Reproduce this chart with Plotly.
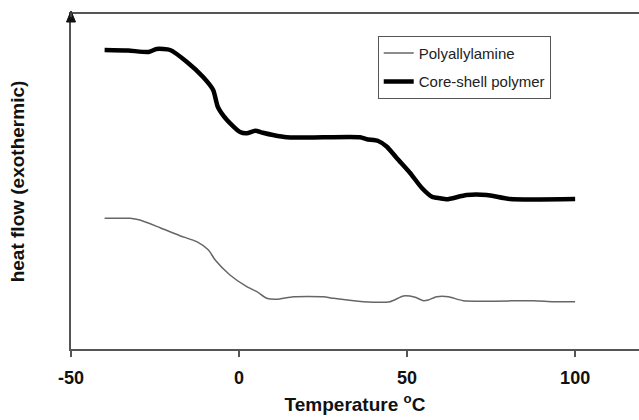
import plotly.graph_objects as go

# Core-shell polymer (thick black)
cs_x = [-40, -33, -27, -24.5, -20.5, -15.5, -10.7, -7.7, -6.3, -3.6, 0.3, 2.3, 4.8, 7.1, 10.1, 14.2,
        25, 36, 38, 41.4, 44, 46.9, 50.9, 54.4, 57.4, 59.8, 61.8, 67.7, 73.7, 80.6, 100]
cs_y = [299, 298.5, 297, 300, 299, 287, 272, 259, 242, 229, 217, 215.7, 218.3, 216.3, 214, 211.7,
        211.7, 211.7, 209.7, 208, 202.3, 191, 176, 161, 152.3, 150.7, 149.7, 154, 154, 150, 150]

# Polyallylamine (thin grey)
pa_x = [-40, -32.4, -29.5, -23.5, -17.6, -12.6, -9.1, -7.1, -2.7, 2.3, 5.3, 8.2, 11.2, 16.2,
        25.1, 28.1, 37, 44.9, 48.9, 52.4, 54.9, 56.3, 58.8, 62.3, 66.7, 87.6, 93.5, 100]
pa_y = [130.7, 130.7, 129, 121.3, 113.3, 107.3, 99, 89, 74, 62.3, 57.3, 50.7, 49.7, 52.3,
        52.3, 50.7, 47.3, 47.3, 53, 51.7, 48.3, 49, 52.3, 52.3, 48.3, 48.3, 47.3, 47.3]

x_ticks = [-50, 0, 50, 100]

fig = go.Figure()
fig.add_trace(go.Scatter(x=pa_x, y=pa_y, mode="lines", name="Polyallylamine", legendgroup="a",
                         line=dict(color="#666666", width=1.5, shape="spline", smoothing=0.6)))
fig.add_trace(go.Scatter(x=cs_x, y=cs_y, mode="lines", name="Core-shell polymer", legendgroup="b",
                         line=dict(color="#000000", width=4.5, shape="spline", smoothing=0.6)))

fig.update_layout(
    width=639, height=420,
    margin=dict(l=71, r=0, t=14, b=71),
    paper_bgcolor="white", plot_bgcolor="white",
    showlegend=True,
    legend=dict(x=0.540, y=0.935, xanchor="left", yanchor="top",
                bordercolor="#555555", borderwidth=1, bgcolor="white",
                font=dict(family="Liberation Sans, Arial", size=15, color="#222222"),
                tracegroupgap=6, itemwidth=30),
    xaxis=dict(range=[-50, 119], tickvals=x_ticks, ticktext=[str(v) for v in x_ticks],
               showgrid=False, zeroline=False, showline=True, linecolor="#555555", linewidth=1.5,
               mirror=True, ticks="outside", ticklen=6, tickcolor="#555555", tickwidth=1.5,
               ticklabelstandoff=6,
               tickfont=dict(family="Liberation Sans, Arial", size=18, color="#111111", weight="bold"),
               title=dict(text="Temperature <sup>o</sup>C", standoff=10,
                          font=dict(family="Liberation Sans, Arial", size=19, color="#111111", weight="bold"))),
    yaxis=dict(range=[0, 335], showticklabels=False, ticks="", showgrid=False, zeroline=False,
               showline=True, linecolor="#555555", linewidth=1.5,
               title=dict(text="heat flow (exothermic)", standoff=40,
                          font=dict(family="Liberation Sans, Arial", size=19, color="#111111", weight="bold"))),
)
# arrow head on top of the y axis
fig.add_shape(type="path", xref="paper", yref="paper", xsizemode="pixel", ysizemode="pixel",
              xanchor=0, yanchor=1, path="M -4.5,-8 L 4.5,-8 L 0,3 Z",
              fillcolor="#111111", line=dict(color="#111111", width=1))
fig.add_shape(type="line", xref="paper", yref="paper", x0=0, x1=0, y0=0.99, y1=1.005,
              line=dict(color="#555555", width=1.5))

fig.write_html("out.html")
